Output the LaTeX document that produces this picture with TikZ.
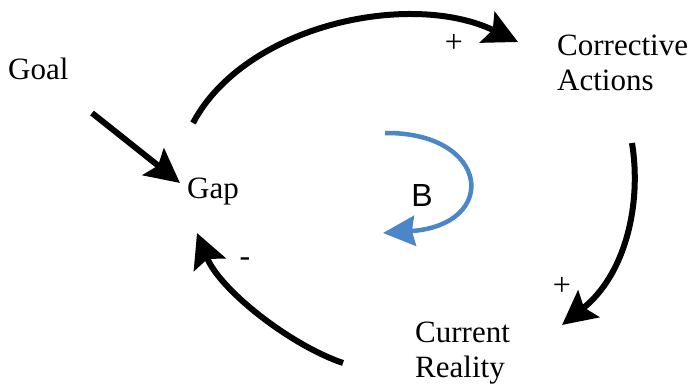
\documentclass[tikz,border=0pt]{standalone}
\usepackage{fontspec}
\setmainfont{Liberation Serif}
\newfontfamily\sansf{Liberation Sans}
\usetikzlibrary{arrows.meta}
\definecolor{loopblue}{RGB}{74,134,200}
\begin{document}
\begin{tikzpicture}[x=1pt,y=-1pt,
  lbl/.style={inner sep=0pt, anchor=base west, font=\fontsize{31}{35}\selectfont, align=left},
  sgn/.style={inner sep=0pt, font=\fontsize{32}{34}\selectfont},
  link/.style={line width=6pt, -{Stealth[length=34pt,width=34pt,inset=6pt]}},
  bluelink/.style={line width=4.5pt, draw=loopblue, -{Stealth[length=32pt,width=30pt,inset=3pt,fill=loopblue]}}]
\useasboundingbox (0,0) rectangle (695,385);
\node[lbl] (goal) at (8,80) {Goal};
\node[lbl] (gap) at (187,198) {Gap};
\node[lbl] (act) at (557,91) {Corrective\\Actions};
\node[lbl] (real) at (415,377) {Current\\Reality};
\node[inner sep=0pt, font=\sansf\fontsize{32}{35}\selectfont] (b) at (422,195) {B};
\coordinate (goalout) at (92,113);
\coordinate (gapin) at (180,183);
\coordinate (gapout) at (193,123);
\coordinate (actin) at (518,42);
\coordinate (actout) at (632,143);
\coordinate (realin) at (562,325);
\coordinate (realout) at (343,363);
\coordinate (gapin2) at (197,233);
\coordinate (bstart) at (385,133);
\coordinate (bend) at (383,233);
\draw[link] (goalout) -- (gapin);
\draw[link] (gapout) .. controls (245,25) and (410,-10) .. (actin);
\draw[link] (actout) .. controls (642,205) and (625,275) .. (realin);
\draw[link] (realout) .. controls (290,345) and (220,290) .. (gapin2);
\draw[bluelink] (bstart) .. controls (490,132) and (500,225) .. (bend);
\node[sgn] (p1) at (454,43) {+};
\node[sgn] (p2) at (562,286) {+};
\node[sgn] (m1) at (245,262) {-};
\end{tikzpicture}
\end{document}
